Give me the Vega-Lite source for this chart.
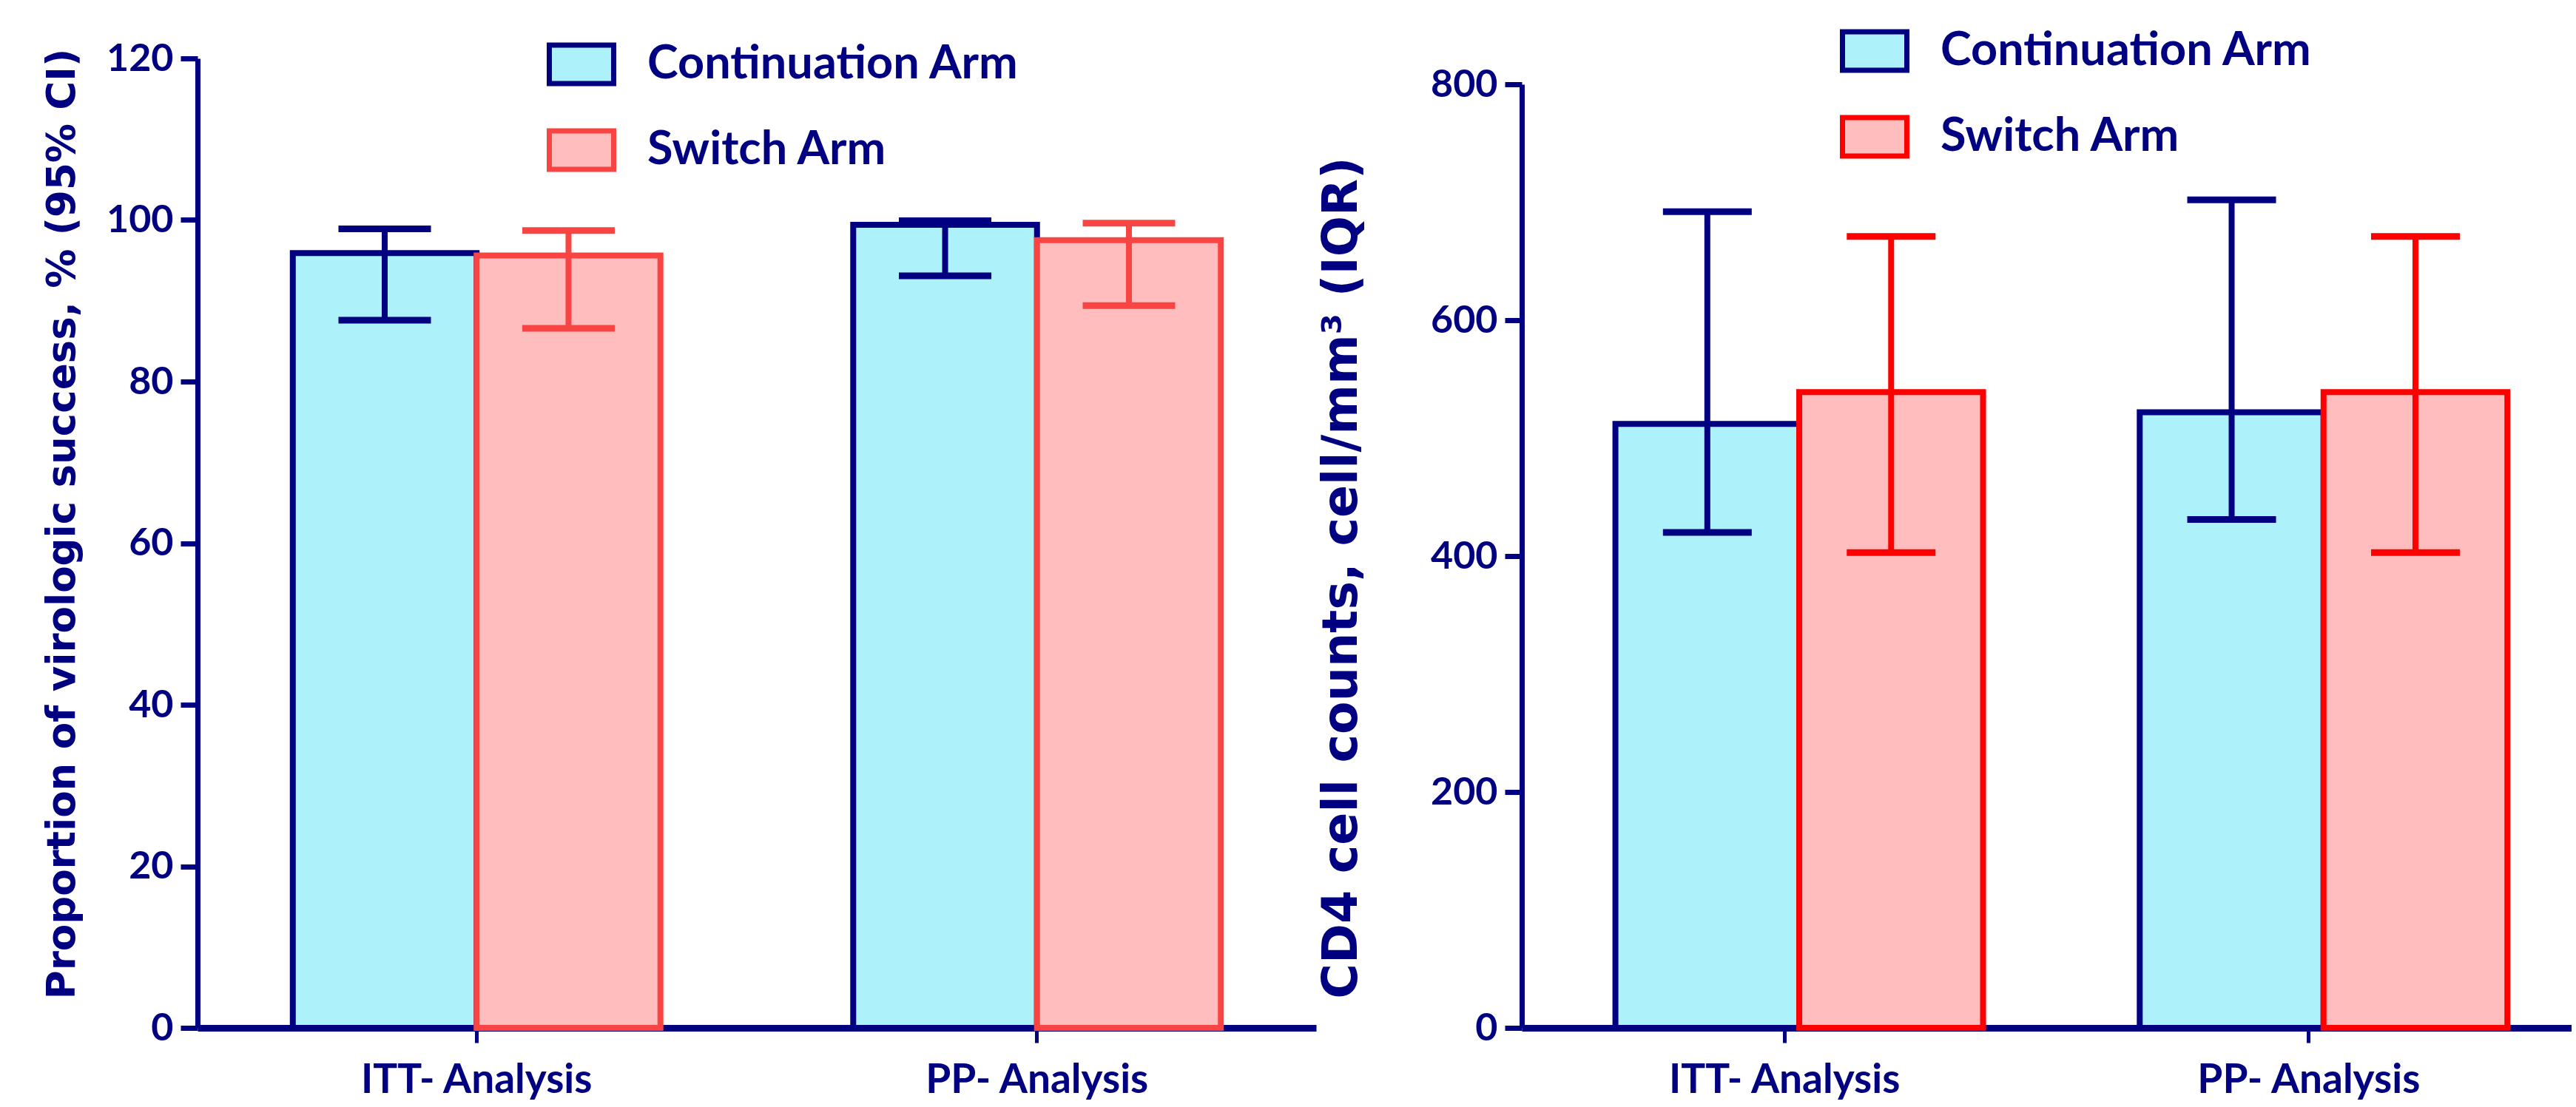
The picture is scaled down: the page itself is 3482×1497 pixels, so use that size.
{
  "$schema": "https://vega.github.io/schema/vega-lite/v6.json",
  "padding": {"left": 58, "top": 22, "right": 0, "bottom": 0},
  "spacing": 2,
  "datasets": {
    "vir": [
      {"analysis": "ITT- Analysis", "arm": "Continuation Arm", "value": 95.9, "lo": 87.6, "hi": 98.9},
      {"analysis": "ITT- Analysis", "arm": "Switch Arm", "value": 95.6, "lo": 86.6, "hi": 98.7},
      {"analysis": "PP- Analysis", "arm": "Continuation Arm", "value": 99.4, "lo": 93.1, "hi": 99.9},
      {"analysis": "PP- Analysis", "arm": "Switch Arm", "value": 97.5, "lo": 89.4, "hi": 99.6}
    ],
    "cd4": [
      {"analysis": "ITT- Analysis", "arm": "Continuation Arm", "value": 512, "lo": 420, "hi": 692},
      {"analysis": "ITT- Analysis", "arm": "Switch Arm", "value": 539, "lo": 403, "hi": 671},
      {"analysis": "PP- Analysis", "arm": "Continuation Arm", "value": 522, "lo": 431, "hi": 702},
      {"analysis": "PP- Analysis", "arm": "Switch Arm", "value": 539, "lo": 403, "hi": 671}
    ]
  },
  "resolve": {"scale": {"fill": "independent", "stroke": "independent", "color": "independent", "y": "independent"}, "legend": {"fill": "independent", "stroke": "independent", "color": "independent"}},
  "hconcat": [
    {
      "width": 1512,
      "height": 1311,
      "data": {"name": "vir"},
      "encoding": {
        "x": {"field": "analysis", "type": "nominal", "scale": {"paddingInner": 0.344, "paddingOuter": 0.17}, "axis": {"title": null, "labelAngle": 0, "tickSize": 20, "tickWidth": 5, "domainWidth": 9, "labelFontSize": 55, "labelPadding": 24, "labelLimit": 1000}},
        "xOffset": {"field": "arm", "type": "nominal", "scale": {"paddingInner": 0, "paddingOuter": 0}}
      },
      "layer": [
        {
          "mark": {"type": "bar", "strokeWidth": 8, "strokeJoin": "miter"},
          "encoding": {
            "y": {"field": "value", "type": "quantitative", "scale": {"domain": [0, 120], "nice": false}, "axis": {"title": "Proportion of virologic success, % (95% CI)", "values": [0, 20, 40, 60, 80, 100, 120], "titleFontSize": 53, "titlePadding": 32, "titleY": 629}},
            "fill": {"field": "arm", "type": "nominal", "scale": {"domain": ["Continuation Arm", "Switch Arm"], "range": ["#ADF2FB", "#FFBDBD"]}, "legend": {"title": null, "orient": "none", "legendX": 472, "legendY": -39, "symbolType": "M-1,-0.6H1V0.6H-1Z", "symbolSize": 7569, "symbolStrokeWidth": 7, "labelFontSize": 63, "labelOffset": 42, "rowPadding": 28}},
            "stroke": {"field": "arm", "type": "nominal", "scale": {"domain": ["Continuation Arm", "Switch Arm"], "range": ["#000080", "#F94444"]}, "legend": {"title": null, "orient": "none", "legendX": 472, "legendY": -39, "symbolType": "M-1,-0.6H1V0.6H-1Z", "symbolSize": 7569, "symbolStrokeWidth": 7, "labelFontSize": 63, "labelOffset": 42, "rowPadding": 28}}
          }
        },
        {
          "mark": {"type": "rule", "strokeWidth": 8},
          "encoding": {
            "y": {"field": "lo", "type": "quantitative"},
            "y2": {"field": "hi"},
            "stroke": {"field": "arm", "type": "nominal", "legend": null}
          }
        },
        {
          "mark": {"type": "tick", "thickness": 9, "size": 125, "opacity": 1},
          "encoding": {
            "y": {"field": "hi", "type": "quantitative"},
            "color": {"field": "arm", "type": "nominal", "legend": null, "scale": {"domain": ["Continuation Arm", "Switch Arm"], "range": ["#000080", "#F94444"]}}
          }
        },
        {
          "mark": {"type": "tick", "thickness": 9, "size": 125, "opacity": 1},
          "encoding": {
            "y": {"field": "lo", "type": "quantitative"},
            "color": {"field": "arm", "type": "nominal", "legend": null}
          }
        }
      ]
    },
    {
      "width": 1419,
      "height": 1311,
      "data": {"name": "cd4"},
      "encoding": {
        "x": {"field": "analysis", "type": "nominal", "scale": {"paddingInner": 0.355, "paddingOuter": 0.1786}, "axis": {"title": null, "labelAngle": 0, "tickSize": 20, "tickWidth": 5, "domainWidth": 9, "labelFontSize": 55, "labelPadding": 24, "labelLimit": 1000}},
        "xOffset": {"field": "arm", "type": "nominal", "scale": {"paddingInner": 0, "paddingOuter": 0}}
      },
      "layer": [
        {
          "mark": {"type": "bar", "strokeWidth": 8, "strokeJoin": "miter"},
          "encoding": {
            "y": {"field": "value", "type": "quantitative", "scale": {"domain": [0, 800], "nice": false, "range": [1311, 35]}, "axis": {"title": "CD4 cell counts, cell/mm³ (IQR)", "values": [0, 200, 400, 600, 800], "titleFontSize": 65, "titlePadding": 86, "titleY": 702}},
            "fill": {"field": "arm", "type": "nominal", "scale": {"domain": ["Continuation Arm", "Switch Arm"], "range": ["#ADF2FB", "#FFBDBD"]}, "legend": {"title": null, "orient": "none", "legendX": 430, "legendY": -57, "symbolType": "M-1,-0.6H1V0.6H-1Z", "symbolSize": 7569, "symbolStrokeWidth": 7, "labelFontSize": 63, "labelOffset": 42, "rowPadding": 28}},
            "stroke": {"field": "arm", "type": "nominal", "scale": {"domain": ["Continuation Arm", "Switch Arm"], "range": ["#000080", "#FF0000"]}, "legend": {"title": null, "orient": "none", "legendX": 430, "legendY": -57, "symbolType": "M-1,-0.6H1V0.6H-1Z", "symbolSize": 7569, "symbolStrokeWidth": 7, "labelFontSize": 63, "labelOffset": 42, "rowPadding": 28}}
          }
        },
        {
          "mark": {"type": "rule", "strokeWidth": 8},
          "encoding": {
            "y": {"field": "lo", "type": "quantitative"},
            "y2": {"field": "hi"},
            "stroke": {"field": "arm", "type": "nominal", "legend": null}
          }
        },
        {
          "mark": {"type": "tick", "thickness": 9, "size": 120, "opacity": 1},
          "encoding": {
            "y": {"field": "hi", "type": "quantitative"},
            "color": {"field": "arm", "type": "nominal", "legend": null, "scale": {"domain": ["Continuation Arm", "Switch Arm"], "range": ["#000080", "#FF0000"]}}
          }
        },
        {
          "mark": {"type": "tick", "thickness": 9, "size": 120, "opacity": 1},
          "encoding": {
            "y": {"field": "lo", "type": "quantitative"},
            "color": {"field": "arm", "type": "nominal", "legend": null}
          }
        }
      ]
    }
  ],
  "config": {
    "font": "Lato",
    "view": {"stroke": null},
    "axis": {
      "grid": false,
      "domainColor": "#000080",
      "domainWidth": 7,
      "tickColor": "#000080",
      "tickWidth": 7,
      "tickSize": 23,
      "labelColor": "#000080",
      "labelFont": "Lato",
      "labelFontWeight": "bold",
      "labelFontSize": 52,
      "labelPadding": 10,
      "titleColor": "#000080",
      "titleFont": "DejaVu Sans",
      "titleFontWeight": "bold"
    },
    "legend": {
      "labelColor": "#000080",
      "labelFont": "Lato",
      "labelFontWeight": "bold",
      "labelLimit": 0,
      "symbolOpacity": 1
    }
  }
}
